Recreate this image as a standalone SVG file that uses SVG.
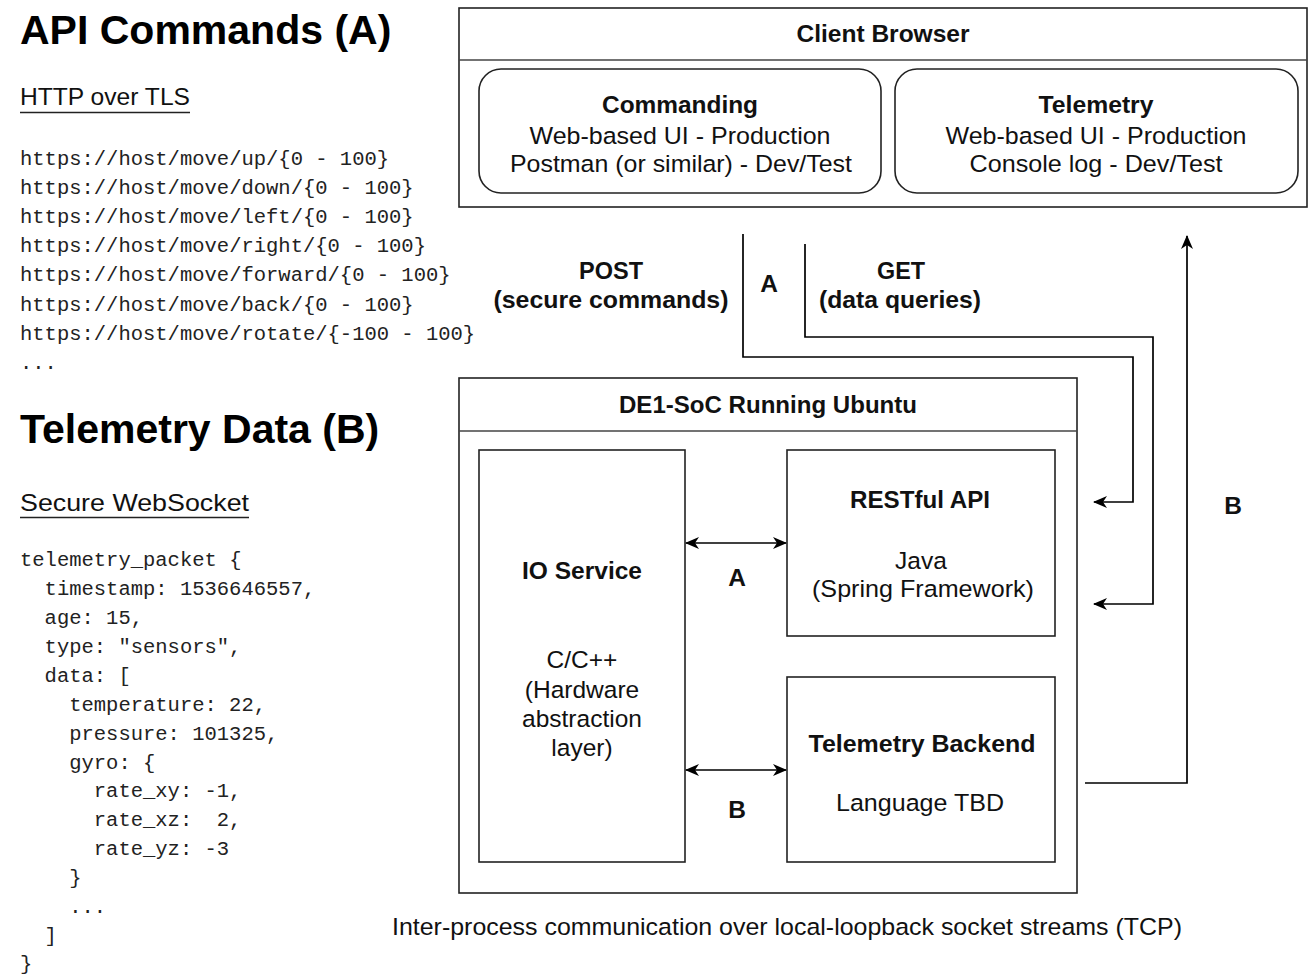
<svg xmlns="http://www.w3.org/2000/svg" width="1308" height="977" viewBox="0 0 1308 977">
<defs>
<style>
.box{fill:#fff;stroke:#222;stroke-width:1.6}
.div{stroke:#444;stroke-width:1.6;fill:none}
.con{fill:none;stroke:#000;stroke-width:1.7}
.t{font-family:"Liberation Sans",Arial,sans-serif;font-size:24.5px;fill:#111;text-anchor:middle}
.b{font-weight:bold}
.h1{font-family:"Liberation Sans",Arial,sans-serif;font-size:41px;font-weight:bold;fill:#000}
.h2{font-family:"Liberation Sans",Arial,sans-serif;font-size:24px;fill:#111}
.m{font-family:"Liberation Mono","Courier New",monospace;font-size:20.5px;fill:#222;white-space:pre}
</style>
<marker id="arr" viewBox="0 0 14 12" refX="13" refY="6" markerWidth="14" markerHeight="12" markerUnits="userSpaceOnUse" orient="auto-start-reverse">
<path d="M0,0 L14,6 L0,12 L4,6 Z" fill="#000"/>
</marker>
</defs>
<rect width="1308" height="977" fill="#fff"/>

<g id="legend-api">
<text class="h1" x="20" y="44">API Commands (A)</text>
<text class="h2" x="20" y="105" textLength="170" lengthAdjust="spacingAndGlyphs">HTTP over TLS</text>
<line x1="20" y1="112.5" x2="190" y2="112.5" stroke="#222" stroke-width="1.5"/>
<text class="m" x="20" y="165">https://host/move/up/{0 - 100}</text>
<text class="m" x="20" y="194">https://host/move/down/{0 - 100}</text>
<text class="m" x="20" y="223">https://host/move/left/{0 - 100}</text>
<text class="m" x="20" y="252">https://host/move/right/{0 - 100}</text>
<text class="m" x="20" y="281">https://host/move/forward/{0 - 100}</text>
<text class="m" x="20" y="311">https://host/move/back/{0 - 100}</text>
<text class="m" x="20" y="340">https://host/move/rotate/{-100 - 100}</text>
<text class="m" x="20" y="369">...</text>
</g>

<g id="legend-telemetry">
<text class="h1" x="20" y="443">Telemetry Data (B)</text>
<text class="h2" x="20" y="511" textLength="229" lengthAdjust="spacingAndGlyphs">Secure WebSocket</text>
<line x1="20" y1="517.5" x2="249" y2="517.5" stroke="#222" stroke-width="1.5"/>
<text class="m" x="20" y="566">telemetry_packet {</text>
<text class="m" x="44.6" y="595">timestamp: 1536646557,</text>
<text class="m" x="44.6" y="624">age: 15,</text>
<text class="m" x="44.6" y="653">type: "sensors",</text>
<text class="m" x="44.6" y="682">data: [</text>
<text class="m" x="69.2" y="711">temperature: 22,</text>
<text class="m" x="69.2" y="740">pressure: 101325,</text>
<text class="m" x="69.2" y="769">gyro: {</text>
<text class="m" x="93.8" y="797">rate_xy: -1,</text>
<text class="m" x="93.8" y="826" xml:space="preserve">rate_xz:  2,</text>
<text class="m" x="93.8" y="855">rate_yz: -3</text>
<text class="m" x="69.2" y="884">}</text>
<text class="m" x="69.2" y="913">...</text>
<text class="m" x="44.6" y="942">]</text>
<text class="m" x="20" y="970">}</text>
</g>

<g id="client-browser">
<rect class="box" x="459" y="8" width="848" height="199"/>
<line class="div" x1="459" y1="60" x2="1307" y2="60"/>
<text class="t b" x="883" y="42" textLength="173" lengthAdjust="spacingAndGlyphs">Client Browser</text>
</g>

<g id="commanding">
<rect class="box" x="479" y="69" width="402" height="124" rx="22" ry="22"/>
<text class="t b" x="680" y="113" textLength="156" lengthAdjust="spacingAndGlyphs">Commanding</text>
<text class="t" x="680" y="144" textLength="301" lengthAdjust="spacingAndGlyphs">Web-based UI - Production</text>
<text class="t" x="681" y="172" textLength="342" lengthAdjust="spacingAndGlyphs">Postman (or similar) - Dev/Test</text>
</g>

<g id="telemetry">
<rect class="box" x="895" y="69" width="403" height="124" rx="22" ry="22"/>
<text class="t b" x="1096" y="113" textLength="115" lengthAdjust="spacingAndGlyphs">Telemetry</text>
<text class="t" x="1096" y="144" textLength="301" lengthAdjust="spacingAndGlyphs">Web-based UI - Production</text>
<text class="t" x="1096" y="172" textLength="253" lengthAdjust="spacingAndGlyphs">Console log - Dev/Test</text>
</g>

<g id="de1-soc">
<rect class="box" x="459" y="378" width="618" height="515"/>
<line class="div" x1="459" y1="431" x2="1077" y2="431"/>
<text class="t b" x="768" y="413" textLength="298" lengthAdjust="spacingAndGlyphs">DE1-SoC Running Ubuntu</text>
</g>

<g id="io-service">
<rect class="box" x="479" y="450" width="206" height="412"/>
<text class="t b" x="582" y="579" textLength="120" lengthAdjust="spacingAndGlyphs">IO Service</text>
<text class="t" x="582" y="668">C/C++</text>
<text class="t" x="582" y="698">(Hardware</text>
<text class="t" x="582" y="727">abstraction</text>
<text class="t" x="582" y="756">layer)</text>
</g>

<g id="restful-api">
<rect class="box" x="787" y="450" width="268" height="186"/>
<text class="t b" x="920" y="508" textLength="140" lengthAdjust="spacingAndGlyphs">RESTful API</text>
<text class="t" x="921" y="569">Java</text>
<text class="t" x="923" y="597" textLength="222" lengthAdjust="spacingAndGlyphs">(Spring Framework)</text>
</g>

<g id="telemetry-backend">
<rect class="box" x="787" y="677" width="268" height="185"/>
<text class="t b" x="922" y="752" textLength="227" lengthAdjust="spacingAndGlyphs">Telemetry Backend</text>
<text class="t" x="920" y="811" textLength="168" lengthAdjust="spacingAndGlyphs">Language TBD</text>
</g>

<g id="connectors">
<path class="con" d="M743,234 V357 H1133 V502 H1094" marker-end="url(#arr)"/>
<path class="con" d="M805,244 V337 H1153 V604 H1094" marker-end="url(#arr)"/>
<path class="con" d="M1085,783 H1187 V236" marker-end="url(#arr)"/>
<path class="con" d="M686,543 H786" marker-start="url(#arr)" marker-end="url(#arr)"/>
<path class="con" d="M686,770 H786" marker-start="url(#arr)" marker-end="url(#arr)"/>
<text class="t b" x="611" y="279" textLength="64" lengthAdjust="spacingAndGlyphs">POST</text>
<text class="t b" x="611" y="308" textLength="235" lengthAdjust="spacingAndGlyphs">(secure commands)</text>
<text class="t b" x="769" y="292">A</text>
<text class="t b" x="901" y="279" textLength="48" lengthAdjust="spacingAndGlyphs">GET</text>
<text class="t b" x="900" y="308" textLength="162" lengthAdjust="spacingAndGlyphs">(data queries)</text>
<text class="t b" x="1233" y="514">B</text>
<text class="t b" x="737" y="586">A</text>
<text class="t b" x="737" y="818">B</text>
</g>

<text class="t" x="787" y="935" textLength="790" lengthAdjust="spacingAndGlyphs">Inter-process communication over local-loopback socket streams (TCP)</text>
</svg>
